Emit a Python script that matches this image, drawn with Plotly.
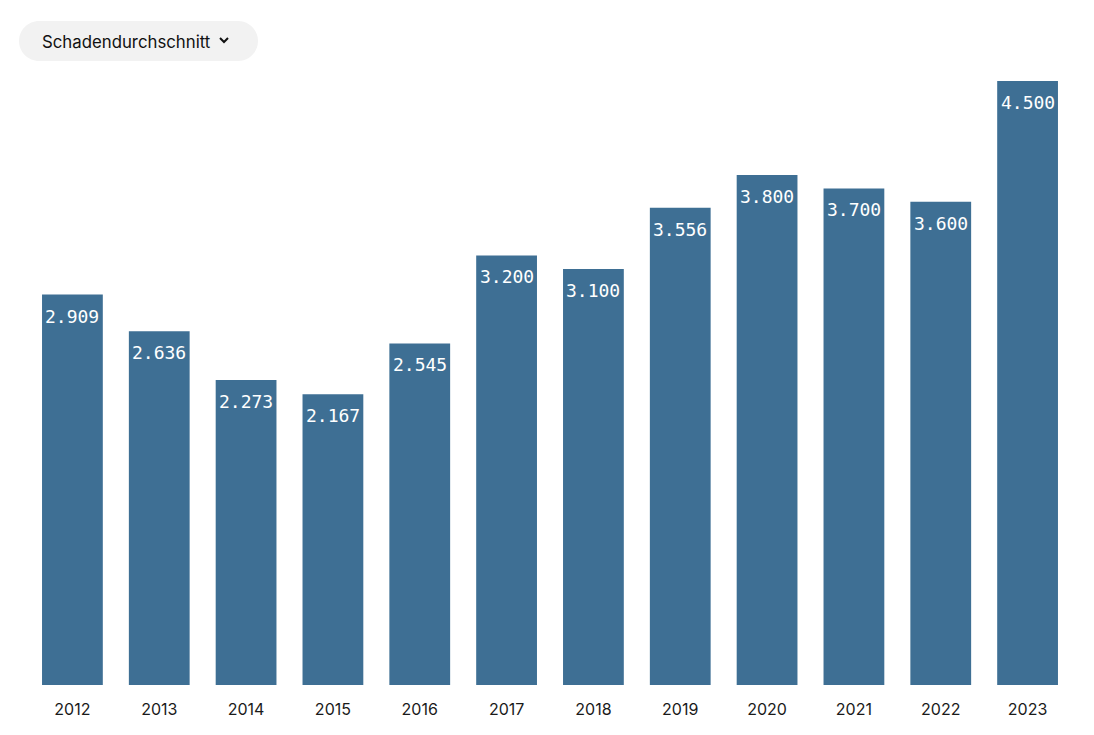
import plotly.graph_objects as go

years = ["2012", "2013", "2014", "2015", "2016", "2017", "2018", "2019", "2020", "2021", "2022", "2023"]
values = [2909, 2636, 2273, 2167, 2545, 3200, 3100, 3556, 3800, 3700, 3600, 4500]
labels = ["2.909", "2.636", "2.273", "2.167", "2.545", "3.200", "3.100", "3.556", "3.800", "3.700", "3.600", "4.500"]
button_text = "Schadendurchschnitt"

W, H = 1094, 735
ML, MR, MT, MB = 29, 23, 81, 50
PW, PH = W - ML - MR, H - MT - MB

def px(x):
    return (x - ML) / PW

def py(y):
    return (H - MB - y) / PH

idx = list(range(len(years)))

fig = go.Figure()
fig.add_trace(go.Bar(
    x=idx, y=values, marker=dict(color="#3e6f94", line=dict(width=0)),
    hovertext=years, hoverinfo="text+y",
))

for i, v, lab in zip(idx, values, labels):
    fig.add_annotation(x=i, y=v, text=lab, showarrow=False, yanchor="top", yshift=-9,
                       font=dict(family="DejaVu Sans Mono", size=18, color="white"))

# pill button
x0, x1, y0, y1, r = 19, 258, 21, 61, 20
path = (f"M {px(x0 + r)} {py(y0)} L {px(x1 - r)} {py(y0)} "
        f"C {px(x1 - r + r*0.55)} {py(y0)} {px(x1)} {py(y0 + r - r*0.55)} {px(x1)} {py(y0 + r)} "
        f"C {px(x1)} {py(y1 - r + r*0.55)} {px(x1 - r + r*0.55)} {py(y1)} {px(x1 - r)} {py(y1)} "
        f"L {px(x0 + r)} {py(y1)} "
        f"C {px(x0 + r - r*0.55)} {py(y1)} {px(x0)} {py(y1 - r + r*0.55)} {px(x0)} {py(y1 - r)} "
        f"C {px(x0)} {py(y0 + r - r*0.55)} {px(x0 + r - r*0.55)} {py(y0)} {px(x0 + r)} {py(y0)} Z")
fig.add_shape(type="path", path=path, xref="paper", yref="paper",
              fillcolor="#f2f2f2", line=dict(width=0), layer="above")
# chevron
cx, cy = 224, 40
chev = f"M {px(cx - 4)} {py(cy - 2)} L {px(cx)} {py(cy + 2)} L {px(cx + 4)} {py(cy - 2)}"
fig.add_shape(type="path", path=chev, xref="paper", yref="paper",
              line=dict(color="#111111", width=2), layer="above")
fig.add_annotation(x=px(40), y=py(42), xref="paper", yref="paper", text=button_text,
                   showarrow=False, xanchor="left", yanchor="middle",
                   font=dict(family="Inter", size=16.8, color="#111111"))

fig.update_layout(
    width=W, height=H,
    margin=dict(l=ML, r=MR, t=MT, b=MB),
    paper_bgcolor="white", plot_bgcolor="white",
    bargap=0.3, showlegend=False,
)
fig.update_xaxes(range=[-0.5, len(years) - 0.5], tickmode="array", tickvals=idx, ticktext=years,
                 showgrid=False, showline=False, zeroline=False, ticks="",
                 ticklabelstandoff=13,
                 tickfont=dict(family="Inter", size=16, color="#1a1a1a"), fixedrange=True)
fig.update_yaxes(range=[0, 4500], visible=False, showgrid=False, zeroline=False, fixedrange=True)

fig.write_html("out.html", config={"displayModeBar": False},
               post_script="document.body.style.margin='0';")
